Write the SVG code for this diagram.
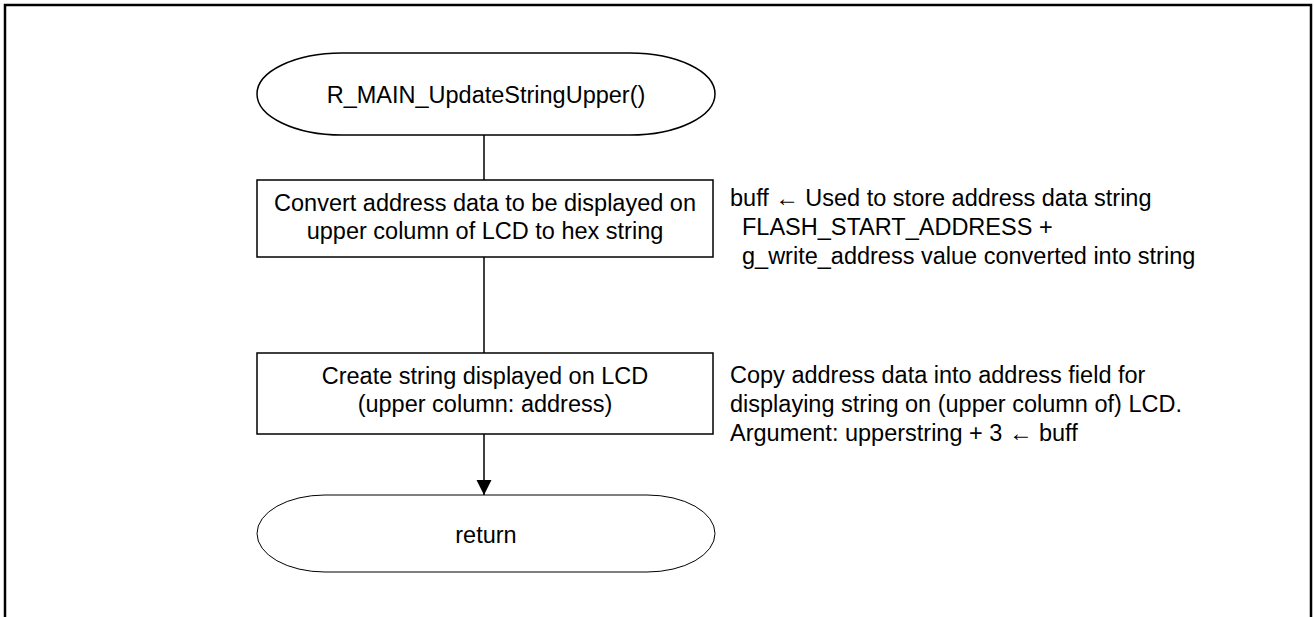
<svg xmlns="http://www.w3.org/2000/svg" width="1314" height="617" viewBox="0 0 1314 617">
  <defs>
    <style>
      .frame { fill: none; stroke: #000; stroke-width: 2.5; }
      .node { fill: #fff; stroke: #000; stroke-width: 1.5; }
      .thin { fill: #fff; stroke: #000; stroke-width: 1; }
      .conn { fill: none; stroke: #000; stroke-width: 1.5; }
      text { font-family: "Liberation Sans", Arial, sans-serif; font-size: 23.5px; fill: #000; }
      .c { text-anchor: middle; }
    </style>
    <marker id="arrow" markerWidth="16" markerHeight="16" refX="15" refY="7.5" orient="auto" markerUnits="userSpaceOnUse">
      <path d="M0,0 L15,7.5 L0,15 Z" fill="#000"/>
    </marker>
  </defs>
  <rect width="1314" height="617" fill="#fff"/>
  <path class="frame" d="M5,620 L5,5 L1311,5 L1311,620"/>

  <g id="connectors">
    <line class="conn" x1="484" y1="135" x2="484" y2="180"/>
    <line class="conn" x1="484" y1="257" x2="484" y2="353"/>
    <line class="conn" x1="484" y1="434" x2="484" y2="495" marker-end="url(#arrow)"/>
  </g>

  <g id="start">
    <path class="node" d="M342,53 L630,53 A85,41 0 0 1 630,135 L342,135 A85,41 0 0 1 342,53 Z"/>
    <text class="c" x="486" y="103">R_MAIN_UpdateStringUpper()</text>
  </g>

  <g id="convert">
    <rect class="node" x="257" y="180" width="456" height="77"/>
    <text class="c" x="485" y="211">Convert address data to be displayed on</text>
    <text class="c" x="485" y="239">upper column of LCD to hex string</text>
  </g>

  <g id="note1">
    <text x="730" y="206">buff ← Used to store address data string</text>
    <text x="742" y="235">FLASH_START_ADDRESS +</text>
    <text x="742" y="264">g_write_address value converted into string</text>
  </g>

  <g id="create">
    <rect class="node" x="257" y="353" width="456" height="81"/>
    <text class="c" x="485" y="384">Create string displayed on LCD</text>
    <text class="c" x="485" y="412">(upper column: address)</text>
  </g>

  <g id="note2">
    <text x="730" y="383">Copy address data into address field for</text>
    <text x="730" y="412">displaying string on (upper column of) LCD.</text>
    <text x="730" y="441">Argument: upperstring + 3 ← buff</text>
  </g>

  <g id="return">
    <path class="thin" d="M325,495 L647,495 A68,38.5 0 0 1 647,572 L325,572 A68,38.5 0 0 1 325,495 Z"/>
    <text class="c" x="486" y="543">return</text>
  </g>
</svg>
